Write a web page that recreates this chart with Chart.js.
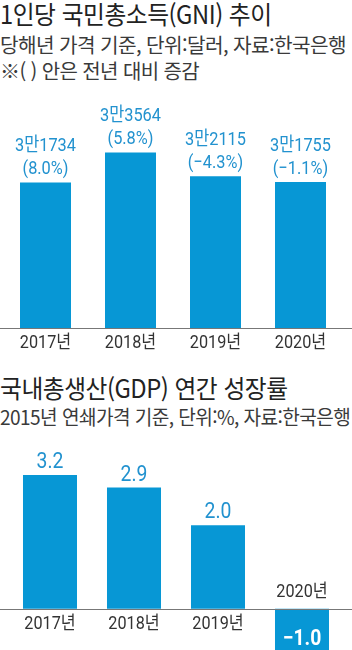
<!DOCTYPE html>
<html lang="ko">
<head>
<meta charset="utf-8">
<script src="https://cdn.jsdelivr.net/npm/chart.js@4.4.1/dist/chart.umd.min.js"></script>
<style>
  html, body { margin: 0; padding: 0; background: #fff; }
  body { width: 352px; height: 650px; position: relative; overflow: hidden;
         font-family: "Noto Sans CJK KR", "Noto Sans", sans-serif; }
  .txt { position: absolute; left: 0; white-space: nowrap; transform-origin: 0 0; }
  .title { font-size: 25px; line-height: 30px; color: #222; letter-spacing: -0.5px; }
  .sub { font-size: 20px; line-height: 24px; color: #3a3a3a; letter-spacing: -0.6px; }
  canvas { position: absolute; left: 0; }
</style>
</head>
<body>
<div class="txt title" style="top:-2px; transform:scaleX(0.95)">1인당 국민총소득(GNI) 추이</div>
<div class="txt sub" style="top:33px; transform:scaleX(1.01)">당해년 가격 기준, 단위:달러, 자료:한국은행</div>
<div class="txt sub" style="top:59px; transform:scaleX(1.0)">※( ) 안은 전년 대비 증감</div>
<canvas id="gni" width="352" height="272" style="top:90px"></canvas>

<div class="txt title" style="top:372px; transform:scaleX(0.95)">국내총생산(GDP) 연간 성장률</div>
<div class="txt sub" style="top:405px; transform:scaleX(0.955)">2015년 연쇄가격 기준, 단위:%, 자료:한국은행</div>
<canvas id="gdp" width="352" height="212" style="top:440px"></canvas>

<script>
// data
const years = ['2017년', '2018년', '2019년', '2020년'];
const gniValues = [31734, 33564, 32115, 31755];   // 달러
const gniChange = [8.0, 5.8, -4.3, -1.1];         // 전년 대비 %
const gdpGrowth = [3.2, 2.9, 2.0, -1.0];          // %

const barBlue = '#0797d5';
const labelBlue = '#2292cf';
const numFont = '"Roboto", "Noto Sans CJK KR", sans-serif';

function minus(s) { return s.replace('-', '\u2212'); }

function gniText(v) {
  return Math.floor(v / 10000) + '만' + (v % 10000);
}

// draw text squeezed horizontally, the reference font is condensed
function squeezed(ctx, text, x, y, sx) {
  ctx.save();
  ctx.translate(x, y);
  ctx.scale(sx, 1);
  ctx.fillText(text, 0, 0);
  ctx.restore();
}

function axisLine(chart, y) {
  const ctx = chart.ctx;
  ctx.strokeStyle = '#777';
  ctx.lineWidth = 1;
  ctx.beginPath();
  ctx.moveTo(0, Math.round(y) + 0.5);
  ctx.lineTo(chart.width, Math.round(y) + 0.5);
  ctx.stroke();
}

const gniLabels = {
  id: 'gniLabels',
  afterDatasetsDraw(chart) {
    const ctx = chart.ctx;
    const meta = chart.getDatasetMeta(0);
    const yAxis = chart.scales.y;
    const base = yAxis.getPixelForValue(yAxis.min);
    ctx.save();
    axisLine(chart, base);
    ctx.textAlign = 'center';
    ctx.textBaseline = 'alphabetic';
    meta.data.forEach((bar, i) => {
      ctx.fillStyle = labelBlue;
      ctx.font = '19px ' + numFont;
      squeezed(ctx, gniText(gniValues[i]), bar.x, bar.y - 31, 0.86);
      const c = gniChange[i].toFixed(1);
      squeezed(ctx, '(' + minus(c) + '%)', bar.x, bar.y - 8, 0.86);
      ctx.fillStyle = '#333';
      ctx.font = '18px ' + numFont;
      squeezed(ctx, years[i], bar.x, base + 20, 0.9);
    });
    ctx.restore();
  }
};

const gdpLabels = {
  id: 'gdpLabels',
  afterDatasetsDraw(chart) {
    const ctx = chart.ctx;
    const meta = chart.getDatasetMeta(0);
    const base = chart.scales.y.getPixelForValue(0);
    ctx.save();
    axisLine(chart, base);
    ctx.textAlign = 'center';
    ctx.textBaseline = 'alphabetic';
    meta.data.forEach((bar, i) => {
      const v = gdpGrowth[i];
      if (v >= 0) {
        ctx.fillStyle = labelBlue;
        ctx.font = '22px ' + numFont;
        squeezed(ctx, v.toFixed(1), bar.x, bar.y - 7, 0.88);
        ctx.fillStyle = '#333';
        ctx.font = '18px ' + numFont;
        squeezed(ctx, years[i], bar.x, base + 20, 0.9);
      } else {
        // negative bar: value inside in white, year label above the axis
        ctx.fillStyle = '#fff';
        ctx.font = 'bold 22px ' + numFont;
        squeezed(ctx, minus(v.toFixed(1)), bar.x, base + 36, 0.88);
        ctx.fillStyle = '#333';
        ctx.font = '18px ' + numFont;
        squeezed(ctx, years[i], bar.x, base - 12, 0.9);
      }
    });
    ctx.restore();
  }
};

const common = {
  responsive: false,
  animation: false,
  devicePixelRatio: 1,
  plugins: { legend: { display: false }, tooltip: { enabled: false } }
};

new Chart(document.getElementById('gni'), {
  type: 'bar',
  data: {
    labels: years,
    datasets: [{
      data: gniValues,
      backgroundColor: barBlue,
      borderWidth: 0,
      categoryPercentage: 1,
      barPercentage: 0.6
    }]
  },
  options: {
    ...common,
    layout: { padding: { left: 3, right: 9, top: 0, bottom: 34 } },
    scales: {
      x: { display: false },
      y: { display: false, min: 22850, max: 37370 }
    }
  },
  plugins: [gniLabels]
});

new Chart(document.getElementById('gdp'), {
  type: 'bar',
  data: {
    labels: years,
    datasets: [{
      data: gdpGrowth,
      backgroundColor: barBlue,
      borderWidth: 0,
      categoryPercentage: 1,
      barPercentage: 0.643
    }]
  },
  options: {
    ...common,
    layout: { padding: { left: 8, right: 8, top: 0, bottom: 1.5 } },
    scales: {
      x: { display: false },
      y: { display: false, min: -1.0, max: 4.04 }
    }
  },
  plugins: [gdpLabels]
});
</script>
</body>
</html>
